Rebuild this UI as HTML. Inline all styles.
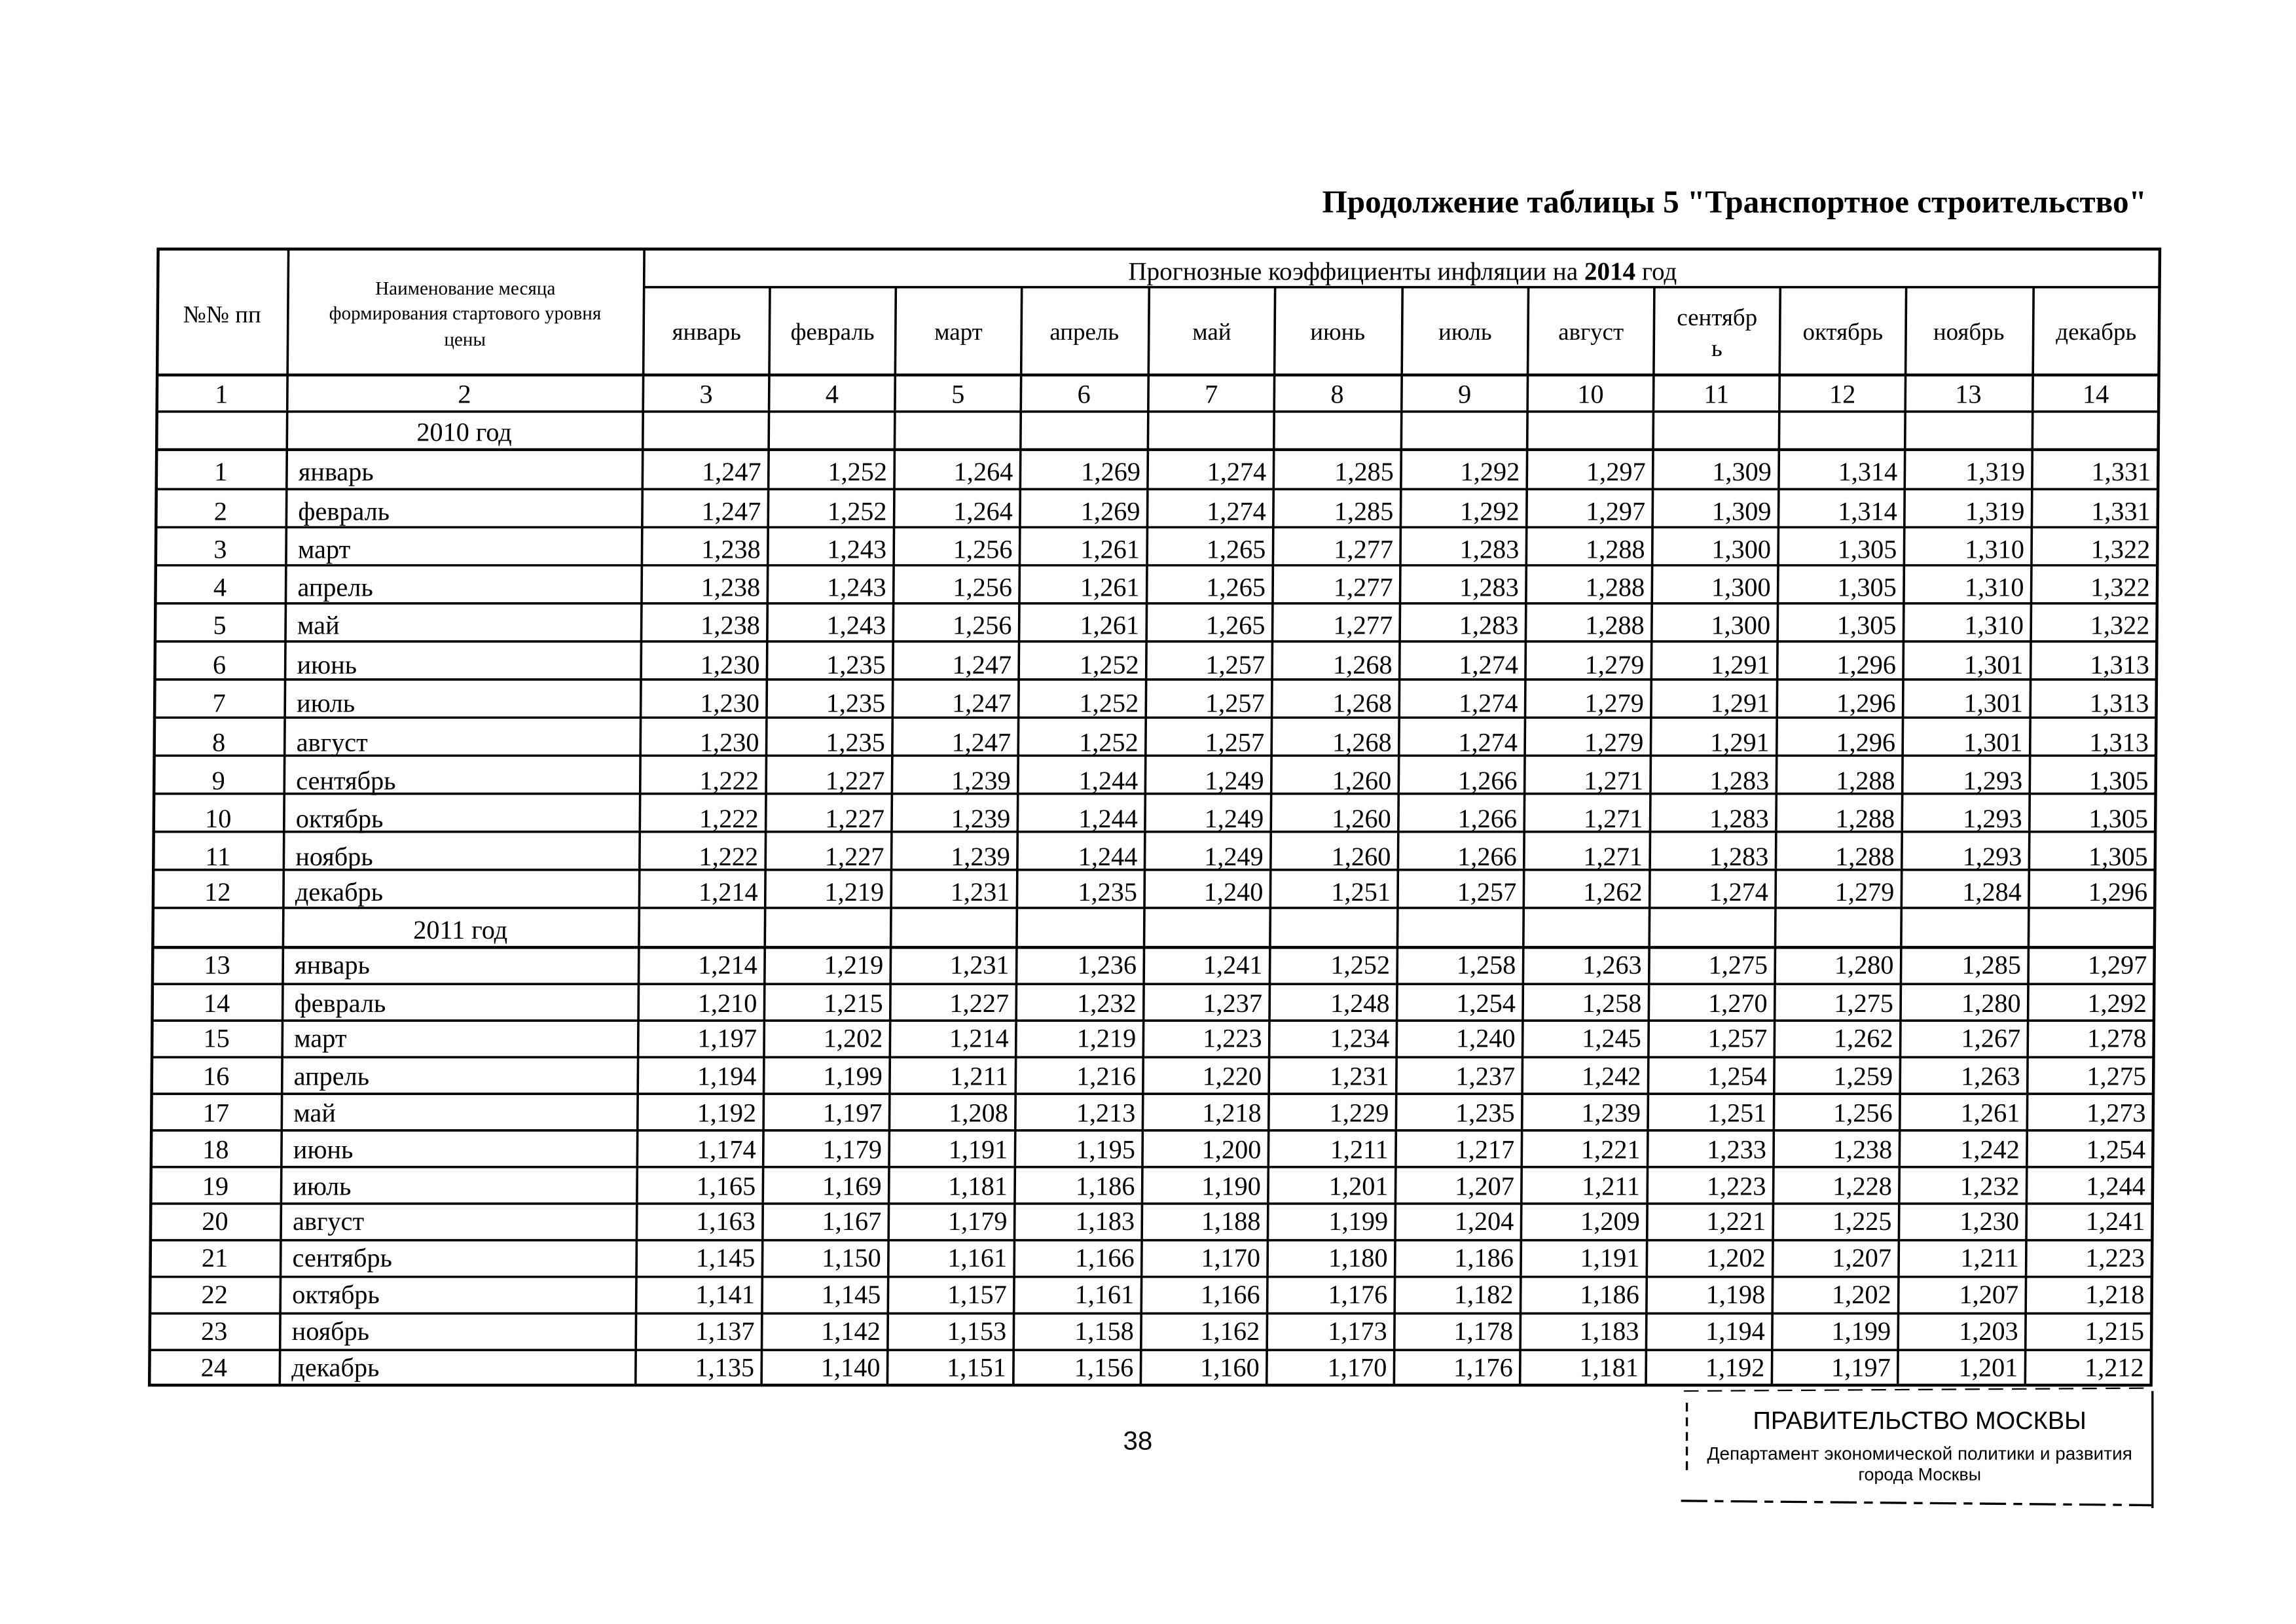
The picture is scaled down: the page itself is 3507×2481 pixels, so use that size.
<!DOCTYPE html>
<html><head><meta charset="utf-8">
<style>
html,body{margin:0;padding:0;background:#fff;}
svg{display:block}
text{font-family:"Liberation Serif",serif;fill:#000}
.v{font-size:18px;text-anchor:end}
.n{font-size:18px;text-anchor:middle}
.m{font-size:18px}
.h{font-size:16.5px;text-anchor:middle}
.s{font-size:13px;text-anchor:middle}
.ss{font-family:"Liberation Sans",sans-serif}
</style></head><body>
<svg width="3507" height="2481" viewBox="0 0 1568 1109" xmlns="http://www.w3.org/2000/svg">
<rect width="1568" height="1109" fill="#fff"/>
<text x="1466" y="145" style="font-size:22px;font-weight:bold;text-anchor:end">Продолжение таблицы 5 "Транспортное строительство"</text>
<g transform="matrix(1,0,-0.0077,1,1.31,0)">
<g stroke="#000" stroke-width="1.6" fill="none">
<rect x="108" y="170" width="1367" height="776" stroke-width="2"/>
<line x1="440" y1="196" x2="1475" y2="196"/>
<line x1="108" y1="256" x2="1475" y2="256" stroke-width="2"/>
<line x1="108" y1="281" x2="1475" y2="281"/>
<line x1="108" y1="307" x2="1475" y2="307" stroke-width="2"/>
<line x1="108" y1="334" x2="1475" y2="334"/><line x1="108" y1="360" x2="1475" y2="360"/><line x1="108" y1="386" x2="1475" y2="386"/><line x1="108" y1="412" x2="1475" y2="412"/><line x1="108" y1="438" x2="1475" y2="438"/><line x1="108" y1="464" x2="1475" y2="464"/><line x1="108" y1="490" x2="1475" y2="490"/><line x1="108" y1="516" x2="1475" y2="516"/><line x1="108" y1="542" x2="1475" y2="542"/><line x1="108" y1="568" x2="1475" y2="568"/><line x1="108" y1="594" x2="1475" y2="594"/><line x1="108" y1="620" x2="1475" y2="620"/>
<line x1="108" y1="647" x2="1475" y2="647" stroke-width="2"/>
<line x1="108" y1="672" x2="1475" y2="672"/><line x1="108" y1="697" x2="1475" y2="697"/><line x1="108" y1="722" x2="1475" y2="722"/><line x1="108" y1="747" x2="1475" y2="747"/><line x1="108" y1="772" x2="1475" y2="772"/><line x1="108" y1="797" x2="1475" y2="797"/><line x1="108" y1="822" x2="1475" y2="822"/><line x1="108" y1="847" x2="1475" y2="847"/><line x1="108" y1="872" x2="1475" y2="872"/><line x1="108" y1="897" x2="1475" y2="897"/><line x1="108" y1="922" x2="1475" y2="922"/>
<line x1="197" y1="170" x2="197" y2="946"/><line x1="440" y1="170" x2="440" y2="946"/>
<line x1="526" y1="196" x2="526" y2="946"/><line x1="612" y1="196" x2="612" y2="946"/><line x1="698" y1="196" x2="698" y2="946"/><line x1="785" y1="196" x2="785" y2="946"/><line x1="871" y1="196" x2="871" y2="946"/><line x1="958" y1="196" x2="958" y2="946"/><line x1="1044" y1="196" x2="1044" y2="946"/><line x1="1130" y1="196" x2="1130" y2="946"/><line x1="1216" y1="196" x2="1216" y2="946"/><line x1="1302" y1="196" x2="1302" y2="946"/><line x1="1389" y1="196" x2="1389" y2="946"/>
</g>
<text x="958" y="191" style="font-size:17.5px;text-anchor:middle">Прогнозные коэффициенты инфляции на <tspan font-weight="bold">2014</tspan> год</text>
<text x="152" y="220" class="h">№№ пп</text>
<text class="s"><tspan x="318" y="201">Наименование месяца</tspan><tspan x="318" y="218">формирования стартового уровня</tspan><tspan x="318" y="236">цены</tspan></text>
<text y="232" class="h"><tspan x="483">январь</tspan><tspan x="569">февраль</tspan><tspan x="655">март</tspan><tspan x="741">апрель</tspan><tspan x="828">май</tspan><tspan x="914">июнь</tspan><tspan x="1001">июль</tspan><tspan x="1087">август</tspan><tspan x="1259">октябрь</tspan><tspan x="1345">ноябрь</tspan><tspan x="1432">декабрь</tspan></text>
<text class="h"><tspan x="1173" y="222">сентябр</tspan><tspan x="1173" y="243">ь</tspan></text>
<text y="275" class="n"><tspan x="152">1</tspan><tspan x="318">2</tspan><tspan x="483">3</tspan><tspan x="569">4</tspan><tspan x="655">5</tspan><tspan x="741">6</tspan><tspan x="828">7</tspan><tspan x="914">8</tspan><tspan x="1001">9</tspan><tspan x="1087">10</tspan><tspan x="1173">11</tspan><tspan x="1259">12</tspan><tspan x="1345">13</tspan><tspan x="1432">14</tspan></text>
<text x="318" y="301" class="n">2010 год</text>
<text x="318" y="641" class="n">2011 год</text>
<g class="n">
<text x="152" y="328">1</text><text x="152" y="355">2</text><text x="152" y="381">3</text><text x="152" y="407">4</text><text x="152" y="433">5</text><text x="152" y="460">6</text><text x="152" y="486">7</text><text x="152" y="513">8</text><text x="152" y="539">9</text><text x="152" y="565">10</text><text x="152" y="591">11</text><text x="152" y="615">12</text>
<text x="152" y="665">13</text><text x="152" y="691">14</text><text x="152" y="715">15</text><text x="152" y="741">16</text><text x="152" y="766">17</text><text x="152" y="791">18</text><text x="152" y="816">19</text><text x="152" y="840">20</text><text x="152" y="865">21</text><text x="152" y="890">22</text><text x="152" y="915">23</text><text x="152" y="940">24</text>
</g>
<g class="m">
<text x="205" y="328">январь</text><text x="205" y="355">февраль</text><text x="205" y="381">март</text><text x="205" y="407">апрель</text><text x="205" y="433">май</text><text x="205" y="460">июнь</text><text x="205" y="486">июль</text><text x="205" y="513">август</text><text x="205" y="539">сентябрь</text><text x="205" y="565">октябрь</text><text x="205" y="591">ноябрь</text><text x="205" y="615">декабрь</text>
<text x="205" y="665">январь</text><text x="205" y="691">февраль</text><text x="205" y="715">март</text><text x="205" y="741">апрель</text><text x="205" y="766">май</text><text x="205" y="791">июнь</text><text x="205" y="816">июль</text><text x="205" y="840">август</text><text x="205" y="865">сентябрь</text><text x="205" y="890">октябрь</text><text x="205" y="915">ноябрь</text><text x="205" y="940">декабрь</text>
</g>
<g class="v">
<text y="328"><tspan x="521">1,247</tspan><tspan x="607">1,252</tspan><tspan x="693">1,264</tspan><tspan x="780">1,269</tspan><tspan x="866">1,274</tspan><tspan x="953">1,285</tspan><tspan x="1039">1,292</tspan><tspan x="1125">1,297</tspan><tspan x="1211">1,309</tspan><tspan x="1297">1,314</tspan><tspan x="1384">1,319</tspan><tspan x="1470">1,331</tspan></text>
<text y="355"><tspan x="521">1,247</tspan><tspan x="607">1,252</tspan><tspan x="693">1,264</tspan><tspan x="780">1,269</tspan><tspan x="866">1,274</tspan><tspan x="953">1,285</tspan><tspan x="1039">1,292</tspan><tspan x="1125">1,297</tspan><tspan x="1211">1,309</tspan><tspan x="1297">1,314</tspan><tspan x="1384">1,319</tspan><tspan x="1470">1,331</tspan></text>
<text y="381"><tspan x="521">1,238</tspan><tspan x="607">1,243</tspan><tspan x="693">1,256</tspan><tspan x="780">1,261</tspan><tspan x="866">1,265</tspan><tspan x="953">1,277</tspan><tspan x="1039">1,283</tspan><tspan x="1125">1,288</tspan><tspan x="1211">1,300</tspan><tspan x="1297">1,305</tspan><tspan x="1384">1,310</tspan><tspan x="1470">1,322</tspan></text>
<text y="407"><tspan x="521">1,238</tspan><tspan x="607">1,243</tspan><tspan x="693">1,256</tspan><tspan x="780">1,261</tspan><tspan x="866">1,265</tspan><tspan x="953">1,277</tspan><tspan x="1039">1,283</tspan><tspan x="1125">1,288</tspan><tspan x="1211">1,300</tspan><tspan x="1297">1,305</tspan><tspan x="1384">1,310</tspan><tspan x="1470">1,322</tspan></text>
<text y="433"><tspan x="521">1,238</tspan><tspan x="607">1,243</tspan><tspan x="693">1,256</tspan><tspan x="780">1,261</tspan><tspan x="866">1,265</tspan><tspan x="953">1,277</tspan><tspan x="1039">1,283</tspan><tspan x="1125">1,288</tspan><tspan x="1211">1,300</tspan><tspan x="1297">1,305</tspan><tspan x="1384">1,310</tspan><tspan x="1470">1,322</tspan></text>
<text y="460"><tspan x="521">1,230</tspan><tspan x="607">1,235</tspan><tspan x="693">1,247</tspan><tspan x="780">1,252</tspan><tspan x="866">1,257</tspan><tspan x="953">1,268</tspan><tspan x="1039">1,274</tspan><tspan x="1125">1,279</tspan><tspan x="1211">1,291</tspan><tspan x="1297">1,296</tspan><tspan x="1384">1,301</tspan><tspan x="1470">1,313</tspan></text>
<text y="486"><tspan x="521">1,230</tspan><tspan x="607">1,235</tspan><tspan x="693">1,247</tspan><tspan x="780">1,252</tspan><tspan x="866">1,257</tspan><tspan x="953">1,268</tspan><tspan x="1039">1,274</tspan><tspan x="1125">1,279</tspan><tspan x="1211">1,291</tspan><tspan x="1297">1,296</tspan><tspan x="1384">1,301</tspan><tspan x="1470">1,313</tspan></text>
<text y="513"><tspan x="521">1,230</tspan><tspan x="607">1,235</tspan><tspan x="693">1,247</tspan><tspan x="780">1,252</tspan><tspan x="866">1,257</tspan><tspan x="953">1,268</tspan><tspan x="1039">1,274</tspan><tspan x="1125">1,279</tspan><tspan x="1211">1,291</tspan><tspan x="1297">1,296</tspan><tspan x="1384">1,301</tspan><tspan x="1470">1,313</tspan></text>
<text y="539"><tspan x="521">1,222</tspan><tspan x="607">1,227</tspan><tspan x="693">1,239</tspan><tspan x="780">1,244</tspan><tspan x="866">1,249</tspan><tspan x="953">1,260</tspan><tspan x="1039">1,266</tspan><tspan x="1125">1,271</tspan><tspan x="1211">1,283</tspan><tspan x="1297">1,288</tspan><tspan x="1384">1,293</tspan><tspan x="1470">1,305</tspan></text>
<text y="565"><tspan x="521">1,222</tspan><tspan x="607">1,227</tspan><tspan x="693">1,239</tspan><tspan x="780">1,244</tspan><tspan x="866">1,249</tspan><tspan x="953">1,260</tspan><tspan x="1039">1,266</tspan><tspan x="1125">1,271</tspan><tspan x="1211">1,283</tspan><tspan x="1297">1,288</tspan><tspan x="1384">1,293</tspan><tspan x="1470">1,305</tspan></text>
<text y="591"><tspan x="521">1,222</tspan><tspan x="607">1,227</tspan><tspan x="693">1,239</tspan><tspan x="780">1,244</tspan><tspan x="866">1,249</tspan><tspan x="953">1,260</tspan><tspan x="1039">1,266</tspan><tspan x="1125">1,271</tspan><tspan x="1211">1,283</tspan><tspan x="1297">1,288</tspan><tspan x="1384">1,293</tspan><tspan x="1470">1,305</tspan></text>
<text y="615"><tspan x="521">1,214</tspan><tspan x="607">1,219</tspan><tspan x="693">1,231</tspan><tspan x="780">1,235</tspan><tspan x="866">1,240</tspan><tspan x="953">1,251</tspan><tspan x="1039">1,257</tspan><tspan x="1125">1,262</tspan><tspan x="1211">1,274</tspan><tspan x="1297">1,279</tspan><tspan x="1384">1,284</tspan><tspan x="1470">1,296</tspan></text>
<text y="665"><tspan x="521">1,214</tspan><tspan x="607">1,219</tspan><tspan x="693">1,231</tspan><tspan x="780">1,236</tspan><tspan x="866">1,241</tspan><tspan x="953">1,252</tspan><tspan x="1039">1,258</tspan><tspan x="1125">1,263</tspan><tspan x="1211">1,275</tspan><tspan x="1297">1,280</tspan><tspan x="1384">1,285</tspan><tspan x="1470">1,297</tspan></text>
<text y="691"><tspan x="521">1,210</tspan><tspan x="607">1,215</tspan><tspan x="693">1,227</tspan><tspan x="780">1,232</tspan><tspan x="866">1,237</tspan><tspan x="953">1,248</tspan><tspan x="1039">1,254</tspan><tspan x="1125">1,258</tspan><tspan x="1211">1,270</tspan><tspan x="1297">1,275</tspan><tspan x="1384">1,280</tspan><tspan x="1470">1,292</tspan></text>
<text y="715"><tspan x="521">1,197</tspan><tspan x="607">1,202</tspan><tspan x="693">1,214</tspan><tspan x="780">1,219</tspan><tspan x="866">1,223</tspan><tspan x="953">1,234</tspan><tspan x="1039">1,240</tspan><tspan x="1125">1,245</tspan><tspan x="1211">1,257</tspan><tspan x="1297">1,262</tspan><tspan x="1384">1,267</tspan><tspan x="1470">1,278</tspan></text>
<text y="741"><tspan x="521">1,194</tspan><tspan x="607">1,199</tspan><tspan x="693">1,211</tspan><tspan x="780">1,216</tspan><tspan x="866">1,220</tspan><tspan x="953">1,231</tspan><tspan x="1039">1,237</tspan><tspan x="1125">1,242</tspan><tspan x="1211">1,254</tspan><tspan x="1297">1,259</tspan><tspan x="1384">1,263</tspan><tspan x="1470">1,275</tspan></text>
<text y="766"><tspan x="521">1,192</tspan><tspan x="607">1,197</tspan><tspan x="693">1,208</tspan><tspan x="780">1,213</tspan><tspan x="866">1,218</tspan><tspan x="953">1,229</tspan><tspan x="1039">1,235</tspan><tspan x="1125">1,239</tspan><tspan x="1211">1,251</tspan><tspan x="1297">1,256</tspan><tspan x="1384">1,261</tspan><tspan x="1470">1,273</tspan></text>
<text y="791"><tspan x="521">1,174</tspan><tspan x="607">1,179</tspan><tspan x="693">1,191</tspan><tspan x="780">1,195</tspan><tspan x="866">1,200</tspan><tspan x="953">1,211</tspan><tspan x="1039">1,217</tspan><tspan x="1125">1,221</tspan><tspan x="1211">1,233</tspan><tspan x="1297">1,238</tspan><tspan x="1384">1,242</tspan><tspan x="1470">1,254</tspan></text>
<text y="816"><tspan x="521">1,165</tspan><tspan x="607">1,169</tspan><tspan x="693">1,181</tspan><tspan x="780">1,186</tspan><tspan x="866">1,190</tspan><tspan x="953">1,201</tspan><tspan x="1039">1,207</tspan><tspan x="1125">1,211</tspan><tspan x="1211">1,223</tspan><tspan x="1297">1,228</tspan><tspan x="1384">1,232</tspan><tspan x="1470">1,244</tspan></text>
<text y="840"><tspan x="521">1,163</tspan><tspan x="607">1,167</tspan><tspan x="693">1,179</tspan><tspan x="780">1,183</tspan><tspan x="866">1,188</tspan><tspan x="953">1,199</tspan><tspan x="1039">1,204</tspan><tspan x="1125">1,209</tspan><tspan x="1211">1,221</tspan><tspan x="1297">1,225</tspan><tspan x="1384">1,230</tspan><tspan x="1470">1,241</tspan></text>
<text y="865"><tspan x="521">1,145</tspan><tspan x="607">1,150</tspan><tspan x="693">1,161</tspan><tspan x="780">1,166</tspan><tspan x="866">1,170</tspan><tspan x="953">1,180</tspan><tspan x="1039">1,186</tspan><tspan x="1125">1,191</tspan><tspan x="1211">1,202</tspan><tspan x="1297">1,207</tspan><tspan x="1384">1,211</tspan><tspan x="1470">1,223</tspan></text>
<text y="890"><tspan x="521">1,141</tspan><tspan x="607">1,145</tspan><tspan x="693">1,157</tspan><tspan x="780">1,161</tspan><tspan x="866">1,166</tspan><tspan x="953">1,176</tspan><tspan x="1039">1,182</tspan><tspan x="1125">1,186</tspan><tspan x="1211">1,198</tspan><tspan x="1297">1,202</tspan><tspan x="1384">1,207</tspan><tspan x="1470">1,218</tspan></text>
<text y="915"><tspan x="521">1,137</tspan><tspan x="607">1,142</tspan><tspan x="693">1,153</tspan><tspan x="780">1,158</tspan><tspan x="866">1,162</tspan><tspan x="953">1,173</tspan><tspan x="1039">1,178</tspan><tspan x="1125">1,183</tspan><tspan x="1211">1,194</tspan><tspan x="1297">1,199</tspan><tspan x="1384">1,203</tspan><tspan x="1470">1,215</tspan></text>
<text y="940"><tspan x="521">1,135</tspan><tspan x="607">1,140</tspan><tspan x="693">1,151</tspan><tspan x="780">1,156</tspan><tspan x="866">1,160</tspan><tspan x="953">1,170</tspan><tspan x="1039">1,176</tspan><tspan x="1125">1,181</tspan><tspan x="1211">1,192</tspan><tspan x="1297">1,197</tspan><tspan x="1384">1,201</tspan><tspan x="1470">1,212</tspan></text>
</g>
</g>
<text x="777" y="990" class="ss" style="font-size:18px;text-anchor:middle">38</text>
<g stroke="#000" fill="none" stroke-width="1.5">
<line x1="1152" y1="958" x2="1152" y2="1005" stroke-dasharray="6 4"/>
<line x1="1470" y1="950" x2="1470" y2="1030"/>
<line x1="1148" y1="1025" x2="1470" y2="1028" stroke-dasharray="18 5 6 5"/>
<line x1="1150" y1="950" x2="1470" y2="948" stroke-dasharray="10 6" stroke-width="1"/>
</g>
<text x="1311" y="976" class="ss" style="font-size:17px;text-anchor:middle">ПРАВИТЕЛЬСТВО МОСКВЫ</text>
<text x="1311" y="997" class="ss" style="font-size:12.5px;text-anchor:middle">Департамент экономической политики и развития</text>
<text x="1311" y="1011" class="ss" style="font-size:12px;text-anchor:middle">города Москвы</text>
</svg>
</body></html>
